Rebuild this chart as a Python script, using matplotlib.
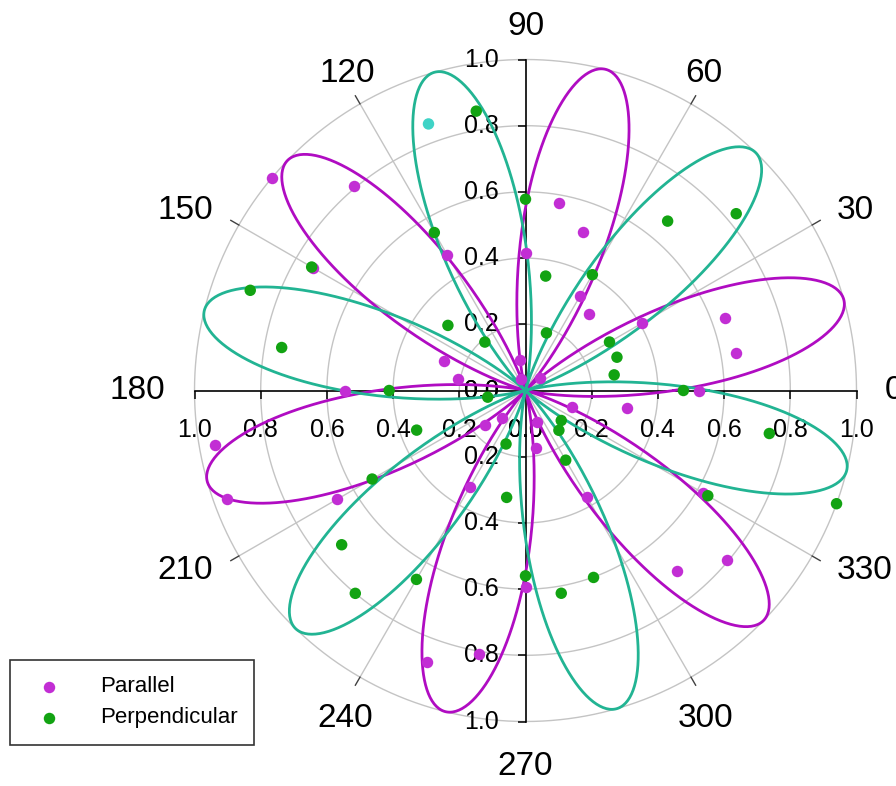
import numpy as np
import matplotlib
matplotlib.use("Agg")
import matplotlib.pyplot as plt

plt.rcParams['font.family'] = ['Liberation Sans', 'DejaVu Sans']

# measured intensities, one point every 10 degrees
angles_deg = np.arange(0, 360, 10)
parallel = [0.524, 0.645, 0.642, 0.405, 0.059, 0.300, 0.328, 0.508, 0.576, 0.416,
            0.094, 0.036, 0.473, 0.805, 1.000, 0.740, 0.261, 0.208, 0.545, 0.953,
            0.959, 0.656, 0.161, 0.110, 0.335, 0.873, 0.808, 0.595, 0.177, 0.100,
            0.371, 0.713, 0.795, 0.620, 0.148, 0.310]
perpendicular = [0.477, 0.272, 0.294, 0.293, 0.831, 0.668, 0.404, 0.185, 0.351, 0.578,
                 0.857, 0.857, 0.551, 0.191, 0.306, 0.746, 0.885, 0.748, 0.412, 0.116,
                 0.350, 0.535, 0.725, 0.800, 0.659, 0.172, 0.328, 0.560, 0.622, 0.601,
                 0.243, 0.157, 0.141, 0.636, 1.000, 0.748]
odd_point_deg = 110      # the one perpendicular point drawn in cyan

# fitted curves: A*cos^2(3(t-t0)) and A*sin^2(3(t-t0))
fit_phase_deg = 16.0
parallel_amp = 1.0
perpendicular_amp = 1.0

ring_values = [0.2, 0.4, 0.6, 0.8, 1.0]
tick_values = [0.0, 0.2, 0.4, 0.6, 0.8, 1.0]
angle_labels = list(range(0, 360, 30))

MAG_LINE = '#b00cc2'
MAG_PT = '#c22ed4'
TEAL = '#22b493'
GREEN_PT = '#12a312'
CYAN_PT = '#3fd3c6'
GRID = '#c4c4c4'

fig = plt.figure(figsize=(8.96, 7.86), dpi=100)
ax = fig.add_axes([0.21708, 0.08206, 0.73884, 0.84224], projection='polar')
ax.set_ylim(0, 1)
ax.set_xticks([])
ax.set_yticks([])
ax.grid(False)
ax.spines['polar'].set_visible(False)

# grid rings and spokes
th = np.linspace(0, 2 * np.pi, 721)
for r in ring_values:
    ax.plot(th, np.full_like(th, r), color=GRID, lw=1, clip_on=False, zorder=1)
for a in range(30, 360, 30):
    if a % 90 == 0:
        continue
    t = np.deg2rad(a)
    ax.plot([t, t], [0, 1.0], color=GRID, lw=1, zorder=1)
    ax.plot([t, t], [1.0, 1.028], color='#404040', lw=1, clip_on=False, zorder=1)

# black axes through the centre with ticks and labels
for a in (0, 90, 180, 270):
    t = np.deg2rad(a)
    ax.plot([t, t], [0, 1.0], color='k', lw=1.2, clip_on=False, zorder=2)
    tick_marker = 3 if a in (0, 180) else 0
    ax.plot(np.full(len(ring_values), t), ring_values, ls='none', marker=tick_marker,
            ms=5.5, mew=1.1, color='k', clip_on=False, zorder=2)
    for v in tick_values:
        if a in (0, 180):
            ax.annotate(f'{v:.1f}', xy=(t, v), xytext=(0, -39), textcoords='offset pixels',
                        ha='center', va='center', fontsize=18, zorder=3)
        else:
            ax.annotate(f'{v:.1f}', xy=(t, v), xytext=(-27, 0), textcoords='offset pixels',
                        ha='right', va='center', fontsize=18, zorder=3)

# angle labels
for a in angle_labels:
    t = np.deg2rad(a)
    if a in (0, 30, 330):
        ha, va, r = 'left', 'center', 1.085
    elif a in (150, 180, 210):
        ha, va, r = 'right', 'center', 1.09
    elif a in (60, 90, 120):
        ha, va, r = 'center', 'baseline', 1.075
    else:
        ha, va, r = 'center', 'top', 1.09
    ax.text(t, r, str(a), ha=ha, va=va, fontsize=24, clip_on=False)

# fitted curves
fit_t = np.deg2rad(np.linspace(0, 360, 1441))
phase = np.deg2rad(fit_phase_deg)
ax.plot(fit_t, parallel_amp * np.cos(3 * (fit_t - phase)) ** 2, color=MAG_LINE, lw=2.0,
        clip_on=False, zorder=4)
ax.plot(fit_t, perpendicular_amp * np.sin(3 * (fit_t - phase)) ** 2, color=TEAL, lw=2.0,
        clip_on=False, zorder=4)

# data points
t_pts = np.deg2rad(angles_deg)
perp_colors = [CYAN_PT if a == odd_point_deg else GREEN_PT for a in angles_deg]
h_par = ax.scatter(t_pts, parallel, s=68, color=MAG_PT, lw=0, clip_on=False, zorder=5,
                   label='Parallel')
ax.scatter(t_pts, perpendicular, s=68, c=perp_colors, lw=0, clip_on=False, zorder=6)
h_perp = ax.scatter([], [], s=68, color=GREEN_PT, lw=0, label='Perpendicular')

leg = fig.legend(handles=[h_par, h_perp], loc='lower left',
                 bbox_to_anchor=(10 / 896, 41 / 786), fontsize=16,
                 frameon=True, fancybox=False, edgecolor='k', borderpad=0.75,
                 handlelength=2.0, handletextpad=1.3, labelspacing=0.45,
                 borderaxespad=0, scatterpoints=1)
leg.get_frame().set_linewidth(1.2)

fig.savefig('out.png', dpi=100)
